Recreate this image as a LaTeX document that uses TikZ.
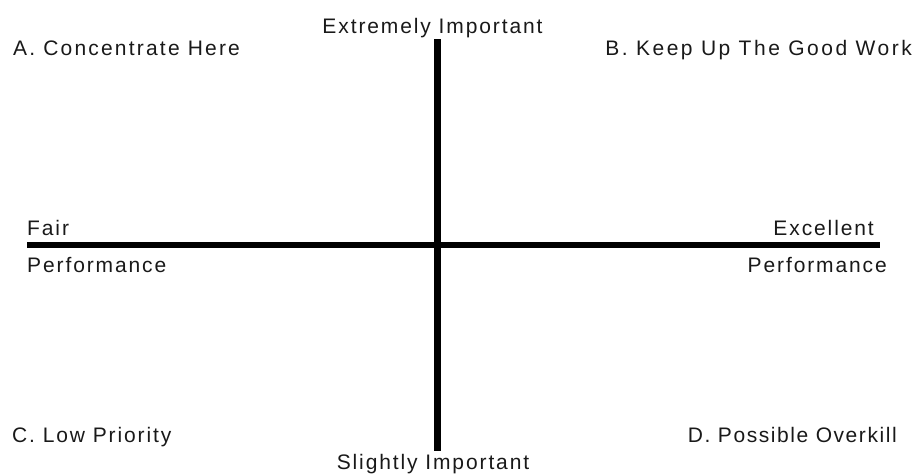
\documentclass[tikz,border=0pt]{standalone}
\usepackage{fontspec}
\setmainfont{Liberation Sans}[LetterSpace=9]

\begin{document}
\begin{tikzpicture}[x=1pt, y=-1pt,
  lbl/.style={inner sep=0pt, text=black!90, font=\fontsize{21}{25}\selectfont},
  wide/.style={font=\fontsize{21}{25}\selectfont\addfontfeature{LetterSpace=#1}},
  axis/.style={line width=6.5pt}]
\useasboundingbox (0,0) rectangle (917,474);

% ============================================================== the axes
\coordinate (top)    at (437.5,39);
\coordinate (bottom) at (437.5,451);
\coordinate (left)   at (27,245);
\coordinate (right)  at (880,245);
\draw[axis] (top) -- (bottom);
\draw[axis] (left) -- (right);

% ============================================================ axis labels
\node[lbl, anchor=base] (imphi) at (432.5,33) {Extremely Important};
\node[lbl, anchor=base] (implo) at (433,469) {Slightly Important};
\node[lbl, anchor=base west] (fair) at (27,235) {Fair};
\node[lbl, anchor=base west] (perfl) at (27,272) {Performance};
\node[lbl, anchor=base east] (exc) at (874,235) {Excellent};
\node[lbl, anchor=base east] (perfr) at (887,272) {Performance};

% ======================================================= quadrant labels
\node[lbl, wide=10.5, anchor=base west] (quadA) at (13,55) {A. Concentrate Here};
\node[lbl, wide=12, anchor=base east] (quadB) at (912,55) {B. Keep Up The Good Work};
\node[lbl, anchor=base west] (quadC) at (12,442) {C. Low Priority};
\node[lbl, wide=7.5, anchor=base east] (quadD) at (897,442) {D. Possible Overkill};

\end{tikzpicture}
\end{document}
